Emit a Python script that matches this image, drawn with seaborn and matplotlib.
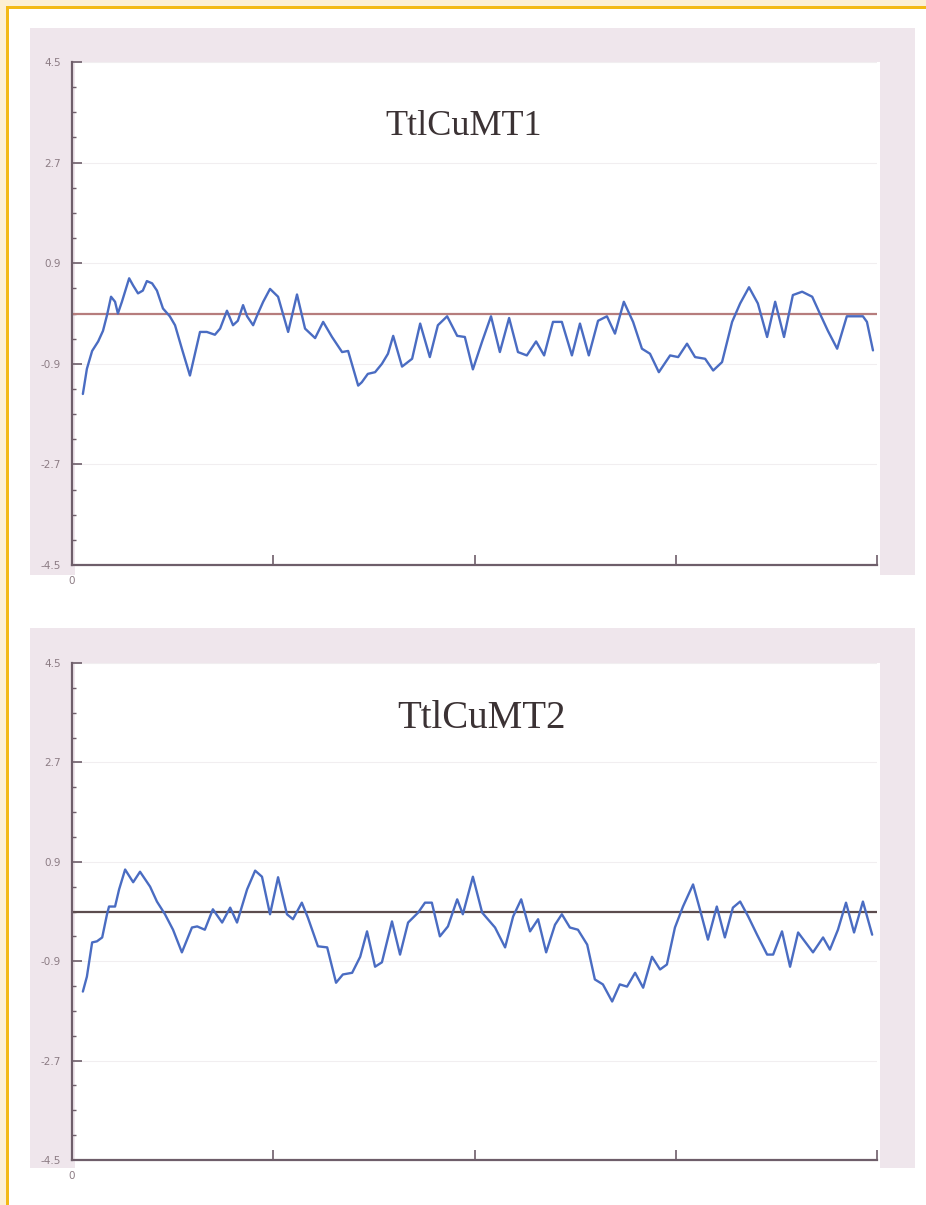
import numpy as np
import pandas as pd
import seaborn as sns
import matplotlib.pyplot as plt
from matplotlib.patches import Rectangle
from matplotlib.ticker import MultipleLocator

# residue position / hydropathy-like score
pos_mt1 = [2.7, 3.7, 5.0, 6.5, 7.7, 8.7, 9.7, 10.7, 11.4, 12.4,
           14.2, 15.2, 16.4, 17.6, 18.6, 19.9, 21.1, 22.6, 24.3, 25.6,
           27.3, 29.3, 31.8, 33.5, 35.5, 36.8, 38.5, 40.0, 41.2, 42.5,
           43.5, 45.0, 46.2, 47.5, 49.2, 51.2, 53.7, 55.9, 57.9, 60.4,
           62.4, 64.6, 67.1, 68.6, 71.1, 72.0, 73.5, 75.3, 77.0, 78.5,
           79.8, 82.0, 84.5, 86.5, 88.9, 90.9, 93.2, 95.7, 97.6, 99.6,
           101.9, 104.1, 106.3, 108.6, 110.8, 113.0, 115.3, 117.3, 119.5, 121.7,
           124.2, 126.2, 128.4, 130.7, 132.9, 134.9, 137.1, 139.4, 141.6, 143.6,
           145.8, 148.6, 150.6, 152.8, 154.8, 157.3, 159.3, 161.5, 164.0, 166.0,
           168.2, 170.4, 172.7, 174.7, 176.9, 179.1, 181.4, 183.9, 185.8, 187.8,
           190.1, 192.5, 196.5, 197.5, 199.0]
val_mt1 = [-1.44, -0.99, -0.67, -0.50, -0.31, -0.03, 0.30, 0.21, 0.00, 0.21,
           0.63, 0.50, 0.36, 0.41, 0.58, 0.54, 0.41, 0.09, -0.05, -0.21,
           -0.63, -1.11, -0.33, -0.33, -0.38, -0.27, 0.05, -0.21, -0.13, 0.15,
           -0.05, -0.21, 0.00, 0.21, 0.44, 0.30, -0.33, 0.34, -0.27, -0.44,
           -0.15, -0.42, -0.69, -0.67, -1.29, -1.23, -1.08, -1.05, -0.90, -0.72,
           -0.40, -0.95, -0.81, -0.18, -0.78, -0.21, -0.05, -0.40, -0.42, -1.00,
           -0.50, -0.05, -0.69, -0.08, -0.69, -0.75, -0.50, -0.75, -0.15, -0.15,
           -0.75, -0.18, -0.75, -0.13, -0.05, -0.36, 0.21, -0.15, -0.63, -0.72,
           -1.05, -0.75, -0.78, -0.54, -0.78, -0.81, -1.02, -0.87, -0.15, 0.18,
           0.47, 0.18, -0.42, 0.21, -0.42, 0.33, 0.39, 0.30, 0.00, -0.31,
           -0.63, -0.05, -0.05, -0.15, -0.66]

pos_mt2 = [2.7, 3.7, 5.0, 6.2, 7.5, 8.7, 9.2, 10.7, 11.7, 13.2,
           15.2, 16.9, 19.4, 21.1, 23.1, 25.1, 27.3, 29.8, 31.1, 33.0,
           35.0, 37.3, 39.3, 41.0, 43.5, 45.5, 47.2, 49.2, 51.2, 53.4,
           54.9, 57.1, 58.6, 61.1, 63.4, 65.6, 67.3, 69.6, 71.6, 73.3,
           75.3, 77.0, 79.5, 81.5, 83.5, 86.0, 87.7, 89.4, 91.4, 93.4,
           95.7, 97.1, 99.6, 101.9, 105.1, 107.6, 109.6, 111.6, 113.8, 115.8,
           117.8, 120.0, 121.7, 123.7, 125.7, 128.0, 129.9, 131.9, 134.2, 136.1,
           137.9, 139.9, 141.9, 144.1, 146.1, 147.8, 149.8, 151.8, 154.3, 156.0,
           158.0, 160.2, 162.2, 164.2, 166.0, 168.0, 170.2, 172.7, 174.2, 176.4,
           178.4, 180.4, 184.1, 186.6, 188.3, 190.3, 192.3, 194.3, 196.5, 198.8]
val_mt2 = [-1.45, -1.18, -0.56, -0.54, -0.47, -0.05, 0.09, 0.09, 0.40, 0.76,
           0.53, 0.72, 0.45, 0.18, -0.05, -0.33, -0.74, -0.29, -0.27, -0.33,
           0.04, -0.20, 0.07, -0.20, 0.40, 0.74, 0.63, -0.05, 0.62, -0.05,
           -0.14, 0.16, -0.11, -0.63, -0.65, -1.29, -1.14, -1.11, -0.82, -0.36,
           -1.00, -0.92, -0.18, -0.78, -0.20, -0.02, 0.16, 0.16, -0.45, -0.27,
           0.22, -0.05, 0.63, -0.02, -0.29, -0.65, -0.09, 0.22, -0.36, -0.14,
           -0.74, -0.24, -0.05, -0.29, -0.33, -0.60, -1.23, -1.32, -1.63, -1.32,
           -1.36, -1.11, -1.38, -0.82, -1.05, -0.96, -0.29, 0.09, 0.49, 0.04,
           -0.51, 0.09, -0.47, 0.07, 0.18, -0.09, -0.42, -0.78, -0.78, -0.36,
           -1.00, -0.38, -0.74, -0.47, -0.69, -0.33, 0.16, -0.38, 0.18, -0.42]

titles = ['TtlCuMT1', 'TtlCuMT2']
y_ticks = [4.5, 2.7, 0.9, -0.9, -2.7, -4.5]
x_ticks = [0, 50, 100, 150, 200]

sns.set_style('ticks')
fig = plt.figure(figsize=(9.26, 12.05), dpi=100)
fig.patch.set_facecolor('white')
W, H = 926, 1205


def px_rect(x0, y0, x1, y1, color, z=-2):
    """Rectangle given in pixel coords measured from the top-left corner."""
    fig.patches.append(Rectangle((x0 / W, 1 - y1 / H), (x1 - x0) / W, (y1 - y0) / H,
                                 transform=fig.transFigure, facecolor=color,
                                 edgecolor='none', zorder=z))


# scanned page frame: cream margin and gold rule at top/left
px_rect(0, 0, W, 6, '#fcefd3')
px_rect(0, 0, 6, H, '#fcefd3')
px_rect(6, 6, W, 9, '#f3b914')
px_rect(6, 6, 9, H, '#f3b914')

# pinkish panel backdrops
px_rect(30, 28, 915, 575, '#efe6ec')
px_rect(30, 628, 915, 1168, '#efe6ec')
px_rect(75, 62, 880, 575, 'white')
px_rect(75, 663, 880, 1168, 'white')

panels = [
    dict(rect=(72, 62, 877, 565), pos=pos_mt1, val=val_mt1, zero='#b67d7d',
         title_xy=(0.486, 0.871), title_size=26),
    dict(rect=(72, 663, 877, 1160), pos=pos_mt2, val=val_mt2, zero='#5c4c4e',
         title_xy=(0.509, 0.889), title_size=28),
]

axis_col = '#6e5e6a'
for title, p in zip(titles, panels):
    x0, y0, x1, y1 = p['rect']
    ax = fig.add_axes([x0 / W, 1 - y1 / H, (x1 - x0) / W, (y1 - y0) / H])
    ax.set_facecolor('none')
    df = pd.DataFrame({'position': p['pos'], 'score': p['val']})
    ax.axhline(0, color=p['zero'], lw=1.6, zorder=2)
    sns.lineplot(data=df, x='position', y='score', ax=ax, color='#4a6cc2',
                 lw=1.7, zorder=3)
    ax.set_xlim(0, 200)
    ax.set_ylim(-4.5, 4.5)
    ax.set_xticks(x_ticks)
    ax.set_xticklabels(['0', '', '', '', ''])
    ax.set_yticks(y_ticks)
    ax.set_yticklabels([f'{t:.1f}' for t in y_ticks])
    ax.yaxis.set_minor_locator(MultipleLocator(0.45))
    ax.grid(axis='y', color='#f1eef0', lw=0.8)
    ax.set_xlabel('')
    ax.set_ylabel('')
    for side in ['top', 'right']:
        ax.spines[side].set_visible(False)
    for side in ['left', 'bottom']:
        ax.spines[side].set_color(axis_col)
        ax.spines[side].set_linewidth(1.6)
    ax.tick_params(axis='both', which='major', direction='in', length=7, width=1.2,
                   color=axis_col, labelsize=7.5, labelcolor='#8c7c84', pad=8)
    ax.tick_params(axis='y', which='minor', direction='in', length=3, width=1,
                   color=axis_col)
    ax.text(p['title_xy'][0], p['title_xy'][1], title, transform=ax.transAxes,
            ha='center', va='center', fontsize=p['title_size'], color='#3b3234',
            family=['Liberation Serif', 'DejaVu Serif'])

fig.savefig('out.png', dpi=100)
